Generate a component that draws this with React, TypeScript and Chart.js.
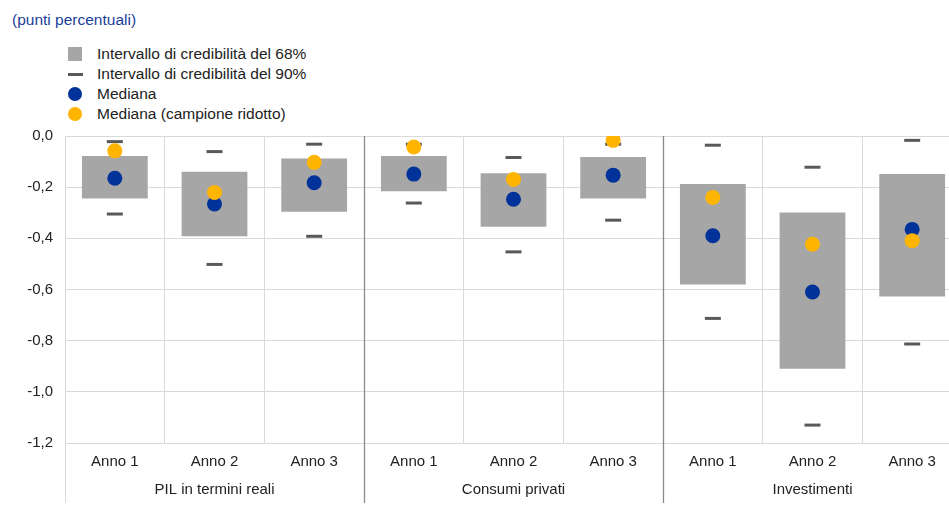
import React, { useEffect, useRef } from 'react';
import { Chart, registerables } from 'chart.js';
Chart.register(...registerables);

const categories = ['Anno 1', 'Anno 2', 'Anno 3', 'Anno 1', 'Anno 2', 'Anno 3', 'Anno 1', 'Anno 2', 'Anno 3'];
const groupLabels = ['', 'PIL in termini reali', '', '', 'Consumi privati', '', '', 'Investimenti', ''];
const ci68Low = [-0.244, -0.392, -0.296, -0.216, -0.355, -0.244, -0.580, -0.910, -0.627];
const ci68High = [-0.078, -0.140, -0.088, -0.078, -0.146, -0.082, -0.188, -0.299, -0.149];
const ci90Low = [-0.305, -0.502, -0.392, -0.262, -0.453, -0.329, -0.713, -1.130, -0.813];
const ci90High = [-0.022, -0.061, -0.032, -0.032, -0.084, -0.032, -0.036, -0.122, -0.017];
const median = [-0.165, -0.266, -0.183, -0.149, -0.247, -0.153, -0.390, -0.610, -0.365];
const medianReduced = [-0.058, -0.221, -0.103, -0.043, -0.170, -0.017, -0.240, -0.423, -0.409];
const yTicks = { min: -1.2, max: 0, step: 0.2 };

const FONT = "'Liberation Sans', Arial, sans-serif";
const GRID = '#D9D9D9';
const DIVIDER = '#8A8A8A';
const BAR = '#A6A6A6';
const DASH = '#595959';
const BLUE = '#003299';
const ORANGE = '#FFB400';

const dividerPlugin = {
  id: 'groupDividers',
  afterDraw(chart: any) {
    const x = chart.scales.x;
    const { ctx, chartArea } = chart;
    const bottom = chart.height - 3;
    ctx.save();
    ctx.lineWidth = 1;
    const lx = Math.round(x.getPixelForValue(-0.5)) + 0.5;
    ctx.strokeStyle = GRID;
    ctx.beginPath();
    ctx.moveTo(lx, chartArea.bottom);
    ctx.lineTo(lx, bottom);
    ctx.stroke();
    ctx.strokeStyle = DIVIDER;
    ctx.lineWidth = 1.3;
    [2.5, 5.5, 8.5].forEach((v) => {
      const px = Math.round(x.getPixelForValue(v)) + 0.5;
      ctx.beginPath();
      ctx.moveTo(px, chartArea.top);
      ctx.lineTo(px, bottom);
      ctx.stroke();
    });
    ctx.restore();
  },
};

export default function App() {
  const ref = useRef<HTMLCanvasElement>(null);
  useEffect(() => {
    const bars = ci68Low.map((lo, i) => [lo, ci68High[i]]);
    const chart = new Chart(ref.current!, {
      type: 'bar',
      data: {
        labels: categories,
        datasets: [
          { type: 'bar', label: 'Intervallo di credibilità del 68%', data: bars as any, backgroundColor: BAR, borderWidth: 0, barPercentage: 0.66, categoryPercentage: 1, order: 4 },
          { type: 'line', label: 'Intervallo di credibilità del 90%', data: ci90High, showLine: false, pointStyle: 'line', pointRadius: 8, pointBorderWidth: 3, pointBorderColor: DASH, borderColor: DASH, order: 3 },
          { type: 'line', label: '90% low', data: ci90Low, showLine: false, pointStyle: 'line', pointRadius: 8, pointBorderWidth: 3, pointBorderColor: DASH, borderColor: DASH, order: 3 },
          { type: 'line', label: 'Mediana', data: median, showLine: false, pointStyle: 'circle', pointRadius: 7.5, pointBorderWidth: 0, pointBackgroundColor: BLUE, order: 1 },
          { type: 'line', label: 'Mediana (campione ridotto)', data: medianReduced, showLine: false, pointStyle: 'circle', pointRadius: 7.5, pointBorderWidth: 0, pointBackgroundColor: ORANGE, order: 0 },
        ] as any,
      },
      options: {
        responsive: false,
        animation: false,
        layout: { padding: { top: 10, right: 5, bottom: 5, left: 0 } },
        plugins: { legend: { display: false }, tooltip: { enabled: false }, title: { display: false } },
        font: { family: FONT, size: 15 },
        scales: {
          x: {
            type: 'category',
            position: 'bottom',
            offset: true,
            weight: 0,
            afterFit: (s: any) => { s.height = 28; },
            grid: { color: GRID, offset: true, drawTicks: false, lineWidth: 1 },
            border: { color: GRID },
            ticks: { autoSkip: false, maxRotation: 0, padding: 10, color: '#222', font: { family: FONT, size: 15 } },
          },
          x2: {
            type: 'category',
            position: 'bottom',
            labels: groupLabels,
            offset: true,
            weight: 1,
            afterFit: (s: any) => { s.height = 30; },
            grid: { display: false, drawTicks: false },
            border: { display: false },
            ticks: { autoSkip: false, maxRotation: 0, padding: 10, color: '#222', font: { family: FONT, size: 15 } },
          },
          y: {
            type: 'linear',
            min: yTicks.min,
            max: yTicks.max,
            grid: { color: GRID, drawTicks: false, lineWidth: 1 },
            border: { color: GRID },
            afterFit: (scale: any) => { scale.width = 65; },
            ticks: {
              stepSize: yTicks.step,
              padding: 12,
              color: '#222',
              font: { family: FONT, size: 15 },
              callback: (v: any) => Number(v).toFixed(1).replace('.', ','),
            },
          },
        },
      } as any,
      plugins: [dividerPlugin],
    });
    return () => chart.destroy();
  }, []);

  const legendItems = [
    { label: 'Intervallo di credibilità del 68%', marker: <div style={{ width: 14, height: 14, background: BAR }} /> },
    { label: 'Intervallo di credibilità del 90%', marker: <div style={{ width: 15, height: 3, background: DASH }} /> },
    { label: 'Mediana', marker: <div style={{ width: 14, height: 14, borderRadius: 7, background: BLUE }} /> },
    { label: 'Mediana (campione ridotto)', marker: <div style={{ width: 14, height: 14, borderRadius: 7, background: ORANGE }} /> },
  ];

  return (
    <div style={{ position: 'fixed', left: 0, top: 0, width: 949, height: 506, overflow: 'hidden', background: '#fff', fontFamily: FONT }}>
      <div style={{ position: 'absolute', left: 12, top: 11, fontSize: 15.5, lineHeight: '18px', color: '#1A3E9C' }}>(punti percentuali)</div>
      {legendItems.map((it, i) => (
        <div key={i} style={{ position: 'absolute', left: 68, top: 44 + i * 20, height: 20, display: 'flex', alignItems: 'center' }}>
          <div style={{ width: 29, display: 'flex', alignItems: 'center' }}>{it.marker}</div>
          <span style={{ fontSize: 15.5, lineHeight: '20px', color: '#222' }}>{it.label}</span>
        </div>
      ))}
      <div style={{ position: 'absolute', left: 0, top: 115, width: 973, height: 391 }}>
        <canvas ref={ref} width={973} height={391} style={{ display: 'block' }} />
      </div>
    </div>
  );
}
